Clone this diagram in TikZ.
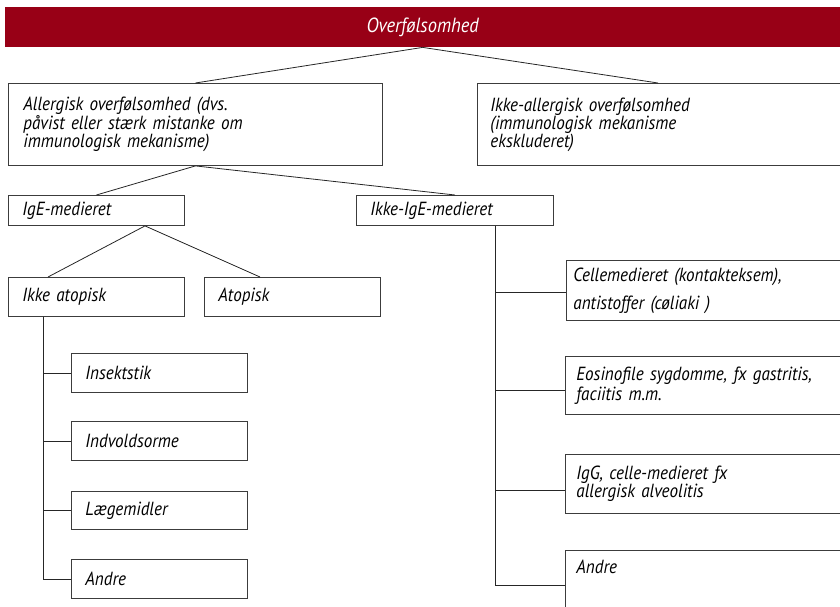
\documentclass[tikz,border=0pt]{standalone}
\usepackage{fontspec}
\setmainfont{PT Sans}[FakeStretch=0.9, WordSpace=0.8]
\usetikzlibrary{calc}
\definecolor{bannerred}{RGB}{152,0,22}
\definecolor{boxline}{RGB}{60,60,60}
\tikzset{
  box/.style={draw=boxline, line width=0.9pt, rectangle, anchor=north west,
    inner ysep=0pt, align=left, font=\fontsize{19}{18}\selectfont\itshape},
  link/.style={draw=black!85, line width=0.8pt},
}
\begin{document}
\begin{tikzpicture}[x=1pt,y=-1pt]
\useasboundingbox (0,0) rectangle (840,607);
\clip (0,0) rectangle (840,607);

% title banner
\node[fill=bannerred, minimum width=835, minimum height=40, anchor=north west,
      inner sep=0pt, text=white, font=\fontsize{20.5}{22}\selectfont\itshape]
      (banner) at (5,7) {Overfølsomhed};

% first level
\node[box, minimum width=374, minimum height=82, inner xsep=15, text width=344]
  (all) at (8,83) {Allergisk overfølsomhed (dvs.\\påvist eller stærk mistanke om\\immunologisk mekanisme)};
\node[box, minimum width=380, minimum height=82, inner xsep=13, text width=354]
  (nonall) at (477,83) {Ikke-allergisk overfølsomhed\\(immunologisk mekanisme\\ekskluderet)};

% second level
\node[box, minimum width=176, minimum height=30, inner xsep=14, text width=148]
  (ige) at (8,195) {IgE-medieret};
\node[box, minimum width=197, minimum height=30, inner xsep=14, text width=169]
  (nige) at (356,195) {Ikke-IgE-medieret};

% IgE branch
\node[box, minimum width=176, minimum height=39, inner xsep=14, text width=148]
  (ia) at (8,277) {Ikke atopisk};
\node[box, minimum width=176, minimum height=39, inner xsep=14, text width=148]
  (atop) at (204,277) {Atopisk};

\node[box, minimum width=176, minimum height=39, inner xsep=14, text width=148]
  (insekt) at (71,353) {Insektstik};
\node[box, minimum width=176, minimum height=39, inner xsep=14, text width=148]
  (indv) at (71,421) {Indvoldsorme};
\node[box, minimum width=176, minimum height=38, inner xsep=14, text width=148]
  (laege) at (71,491) {Lægemidler};
\node[box, minimum width=176, minimum height=39, inner xsep=14, text width=148]
  (andreA) at (71,559) {Andre};

% non-IgE branch
\node[box, minimum width=300, minimum height=60, inner xsep=7, text width=286,
      font=\fontsize{19}{28}\selectfont\itshape]
  (celle) at (566,260) {Cellemedieret (kontakteksem),\\antistoffer (cøliaki )};
\node[box, minimum width=300, minimum height=58, inner xsep=11, text width=278,
      font=\fontsize{19}{20}\selectfont\itshape]
  (eosin) at (565,356) {Eosinofile sygdomme, fx gastritis,\\faciitis m.m.};
\node[box, minimum width=300, minimum height=59, inner xsep=11, text width=278]
  (igg) at (565,454) {IgG, celle-medieret fx\\allergisk alveolitis};
\node[box, minimum width=300, minimum height=70, inner xsep=11, text width=278,
      text height=13, text depth=36]
  (andreB) at (565,550) {Andre};

% connectors
\draw[link] (banner.south) -- (all.north);
\draw[link] (banner.south) -- ($(nonall.north west)+(181,0)$);
\draw[link] (all.south) -- (ige.north);
\draw[link] (all.south) -- (nige.north);
\draw[link] ($(ige.south west)+(137,0)$) -- ($(ia.north west)+(40,0)$);
\draw[link] ($(ige.south west)+(137,0)$) -- ($(atop.north west)+(56,0)$);

\coordinate (iaTrunk) at ($(ia.south west)+(35,0)$);
\draw[link] (iaTrunk) |- (insekt.west);
\draw[link] (iaTrunk) |- (indv.west);
\draw[link] (iaTrunk) |- (laege.west);
\draw[link] (iaTrunk) |- (andreA.west);

\coordinate (nigeTrunk) at ($(nige.south west)+(139,0)$);
\draw[link] (nigeTrunk) |- ($(celle.west)+(0,2)$);
\draw[link] (nigeTrunk) |- ($(eosin.west)+(0,5)$);
\draw[link] (nigeTrunk) |- ($(igg.west)+(0,6)$);
\draw[link] (nigeTrunk) |- (andreB.west);
\end{tikzpicture}
\end{document}
